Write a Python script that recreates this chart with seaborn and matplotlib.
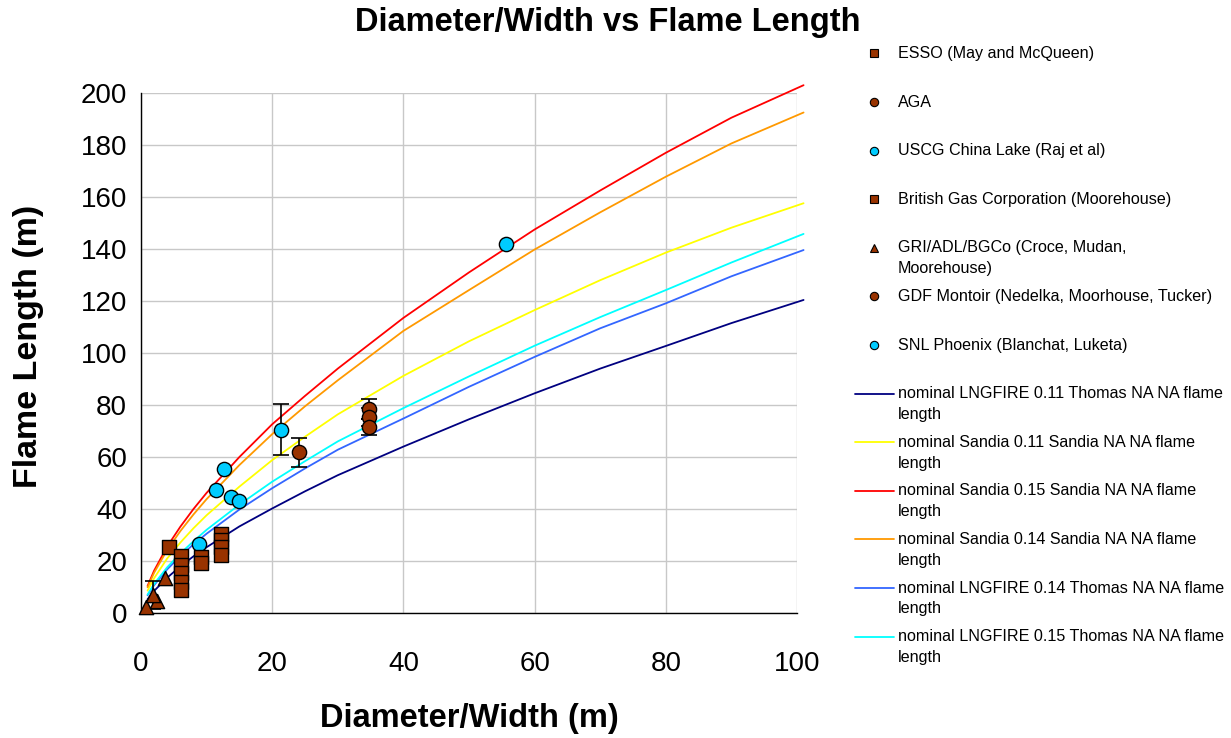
import numpy as np
import pandas as pd
import matplotlib
matplotlib.use("Agg")
import matplotlib.pyplot as plt
import seaborn as sns
from matplotlib.lines import Line2D
from matplotlib.legend_handler import HandlerLine2D

# ---------------- data ----------------
# model curves (flame length vs diameter)
x_model = [1, 2, 4, 6, 8, 10, 15, 20, 25, 30, 40, 50, 60, 70, 80, 90, 101]
lngfire_011 = [5.3, 8.5, 13.6, 17.9, 21.8, 25.3, 33.3, 40.2, 46.8, 53.0, 64.0, 74.5, 84.5, 94.0, 102.7, 111.5, 120.4]
sandia_011 = [8.6, 13.4, 21.0, 27.1, 32.6, 37.6, 48.6, 58.8, 67.8, 76.4, 91.2, 104.5, 116.5, 128.0, 138.6, 148.2, 157.6]
sandia_015 = [10.4, 16.3, 25.6, 33.2, 40.0, 46.2, 60.0, 72.6, 83.5, 94.0, 113.5, 131.0, 147.5, 162.5, 177.0, 190.5, 203.0]
sandia_014 = [9.9, 15.5, 24.3, 31.5, 37.9, 43.8, 56.9, 68.8, 79.5, 89.5, 108.5, 124.2, 139.8, 154.1, 167.8, 180.6, 192.5]
lngfire_014 = [6.8, 10.7, 16.8, 21.9, 26.4, 30.5, 39.8, 48.0, 55.6, 62.8, 74.8, 87.0, 98.5, 109.5, 119.1, 129.5, 139.6]
lngfire_015 = [7.1, 11.2, 17.6, 22.9, 27.6, 32.0, 41.7, 50.5, 58.4, 66.0, 78.8, 91.0, 102.8, 113.8, 124.2, 134.8, 145.8]

model_names = [
    "nominal LNGFIRE 0.11 Thomas NA NA flame\nlength",
    "nominal Sandia 0.11 Sandia NA NA flame\nlength",
    "nominal Sandia 0.15 Sandia NA NA flame\nlength",
    "nominal Sandia 0.14 Sandia NA NA flame\nlength",
    "nominal LNGFIRE 0.14 Thomas NA NA flame\nlength",
    "nominal LNGFIRE 0.15 Thomas NA NA flame\nlength",
]
model_colors = ["#000080", "#FFFF00", "#FF0000", "#FF9900", "#3366FF", "#00FFFF"]

# experimental data
esso_x = [4.3, 6.1, 6.1, 6.1, 6.1, 6.1]
esso_y = [25.4, 21.9, 18.5, 15.3, 12.1, 8.8]
aga_x = [24.1]
aga_y = [61.8]
aga_err = [5.7]
uscg_x = [8.8, 11.4, 12.6, 13.7, 15.0]
uscg_y = [26.6, 47.5, 55.5, 44.8, 43.0]
bgc_x = [9.1, 9.1, 12.2, 12.2, 12.2, 12.2]
bgc_y = [21.4, 19.3, 30.4, 28.0, 25.5, 22.3]
gri_x = [0.8, 2.4, 1.8, 3.7]
gri_y = [2.5, 4.5, 7.0, 13.5]
gri_err = [0.0, 0.0, 5.3, 0.0]
gdf_x = [34.7, 34.7, 34.7]
gdf_y = [78.5, 75.5, 71.5]
gdf_err = [3.8, 3.5, 3.0]
snl_x = [21.3, 55.7]
snl_y = [70.5, 142.0]
snl_err = [9.9, 0.0]

point_series = [
    ("ESSO (May and McQueen)", esso_x, esso_y, None, "s", "#993300"),
    ("AGA", aga_x, aga_y, aga_err, "o", "#993300"),
    ("USCG China Lake (Raj et al)", uscg_x, uscg_y, None, "o", "#00CCFF"),
    ("British Gas Corporation (Moorehouse)", bgc_x, bgc_y, None, "s", "#993300"),
    ("GRI/ADL/BGCo (Croce, Mudan,\nMoorehouse)", gri_x, gri_y, gri_err, "^", "#993300"),
    ("GDF Montoir (Nedelka, Moorhouse, Tucker)", gdf_x, gdf_y, gdf_err, "o", "#993300"),
    ("SNL Phoenix (Blanchat, Luketa)", snl_x, snl_y, snl_err, "o", "#00CCFF"),
]

# ---------------- figure ----------------
sns.set_theme(style="whitegrid")
plt.rcParams["font.family"] = ["Liberation Sans", "DejaVu Sans"]

fig = plt.figure(figsize=(12.31, 7.38), dpi=100)
ax = fig.add_axes([141 / 1231, 1 - 613 / 738, 656 / 1231, 520 / 738])
ax.set_facecolor("white")

# model lines
rows = []
for name, vals in zip(model_names, [lngfire_011, sandia_011, sandia_015, sandia_014, lngfire_014, lngfire_015]):
    for xv, yv in zip(x_model, vals):
        rows.append({"model": name, "x": xv, "y": yv})
df_lines = pd.DataFrame(rows)
sns.lineplot(data=df_lines, x="x", y="y", hue="model", hue_order=model_names,
             palette=dict(zip(model_names, model_colors)), estimator=None, sort=False,
             linewidth=1.3, legend=False, ax=ax, zorder=2)
for ln in ax.lines:
    ln.set_clip_on(False)

# error bars
for name, xs, ys, err, mk, col in point_series:
    if err is not None:
        xe = [xv for xv, e in zip(xs, err) if e > 0]
        ye = [yv for yv, e in zip(ys, err) if e > 0]
        ee = [e for e in err if e > 0]
        ax.errorbar(xe, ye, yerr=ee, fmt="none", ecolor="black", elinewidth=1.2,
                    capsize=6, capthick=1.2, zorder=3)

# points
for name, xs, ys, err, mk, col in point_series:
    sns.scatterplot(x=xs, y=ys, marker=mk, color=col, s=105, edgecolor="black",
                    linewidth=1.0, ax=ax, zorder=4, legend=False, clip_on=False)

# axes styling
ax.set_xlim(0, 100)
ax.set_ylim(0, 200)
ax.set_xticks(np.arange(0, 101, 20))
ax.set_yticks(np.arange(0, 201, 20))
ax.grid(True, color="#C8C8C8", linewidth=1.0)
ax.set_axisbelow(True)
for side in ["top", "right"]:
    ax.spines[side].set_visible(False)
for side in ["left", "bottom"]:
    ax.spines[side].set_color("black")
    ax.spines[side].set_linewidth(1.0)
ax.tick_params(axis="both", which="major", direction="out", length=6, width=1,
               color="black", labelsize=20, labelcolor="black")
ax.tick_params(axis="x", pad=21.5)
ax.tick_params(axis="y", pad=4)

ax.set_xlabel("Diameter/Width (m)", fontsize=23.5, fontweight="bold", color="black")
ax.set_ylabel("Flame Length (m)", fontsize=24.5, fontweight="bold", color="black")
ax.xaxis.label.set_va("center")
ax.yaxis.label.set_va("center")
ax.xaxis.set_label_coords(0.5, (613 - 718) / 520)
ax.yaxis.set_label_coords((28 - 141) / 656, (613 - 346) / 520)

fig.text(608 / 1231, 1 - 23 / 738, "Diameter/Width vs Flame Length", fontsize=23.5,
         fontweight="bold", ha="center", va="center", color="black")

# legend
SHIFT = 7.8


class TopLineHandler(HandlerLine2D):
    def create_artists(self, legend, orig_handle, xdescent, ydescent, width, height, fontsize, trans):
        return super().create_artists(legend, orig_handle, xdescent, ydescent - 2 * SHIFT,
                                      width, height, fontsize, trans)


handles, labels = [], []
for name, xs, ys, err, mk, col in point_series:
    handles.append(Line2D([], [], marker=mk, linestyle="none", markerfacecolor=col,
                          markeredgecolor="black", markersize=6, markeredgewidth=0.8))
    labels.append(name if "\n" in name else name + "\n ")
for name, col in zip(model_names, model_colors):
    handles.append(Line2D([], [], color=col, linewidth=1.3))
    labels.append(name)

leg = fig.legend(handles, labels, loc="upper left", bbox_to_anchor=(855 / 1231, 1 - 46 / 738),
                 bbox_transform=fig.transFigure, frameon=False, fontsize=11.6,
                 handlelength=2.4, handletextpad=0.26, labelspacing=0.805,
                 borderpad=0, borderaxespad=0,
                 handler_map={Line2D: TopLineHandler()})
for t in leg.get_texts():
    t.set_color("black")
    t.set_linespacing(1.47)

fig.savefig("out.png", dpi=100)
